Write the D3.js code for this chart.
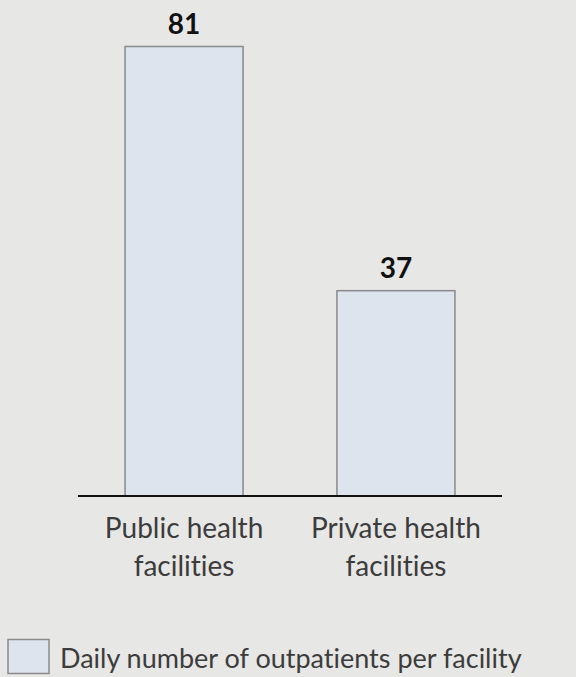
<!DOCTYPE html>
<html>
<head>
<meta charset="utf-8">
<script src="https://cdn.jsdelivr.net/npm/d3@7"></script>
<style>
  html, body { margin: 0; padding: 0; background: #e7e7e5; }
  svg { display: block; }
  text { font-variant-ligatures: none; font-feature-settings: "liga" 0, "clig" 0; }
</style>
</head>
<body>
<script>
var width = 576,
    height = 677;

// data
var categories = ["Public health facilities", "Private health facilities"];
var categoryLines = [["Public health", "facilities"], ["Private health", "facilities"]];
var values = [81, 37];
var seriesName = "Daily number of outpatients per facility";

var svg = d3.select("body")
    .append("svg")
    .attr("width", width)
    .attr("height", height);

svg.append("rect")
    .attr("width", width)
    .attr("height", height)
    .attr("fill", "#e7e7e5");

var x = d3.scaleBand()
    .domain(categories)
    .range([78, 502])
    .paddingInner(0.443)
    .paddingOuter(0.222);

var y = d3.scaleLinear()
    .domain([0, 81])
    .range([496, 46.5]);

// bars
svg.selectAll("rect.bar")
    .data(values)
  .enter().append("rect")
    .attr("class", "bar")
    .attr("x", function(d, i) { return x(categories[i]); })
    .attr("y", function(d) { return y(d); })
    .attr("width", x.bandwidth())
    .attr("height", function(d) { return y(0) - y(d); })
    .attr("fill", "#dde4ee")
    .attr("stroke", "#8a8a8a")
    .attr("stroke-width", 1.5);

// value labels
svg.selectAll("text.val")
    .data(values)
  .enter().append("text")
    .attr("class", "val")
    .attr("x", function(d, i) { return x(categories[i]) + x.bandwidth() / 2; })
    .attr("y", function(d) { return y(d) - 13; })
    .attr("text-anchor", "middle")
    .attr("font-family", "Lato, sans-serif")
    .attr("font-weight", "bold")
    .attr("font-size", 28)
    .attr("fill", "#111")
    .text(function(d) { return d; });

// baseline
svg.append("line")
    .attr("x1", 78)
    .attr("x2", 502)
    .attr("y1", y(0))
    .attr("y2", y(0))
    .attr("stroke", "#111")
    .attr("stroke-width", 2);

// category labels
categoryLines.forEach(function(lines, i) {
  var t = svg.append("text")
      .attr("text-anchor", "middle")
      .attr("font-family", "Lato, sans-serif")
      .attr("font-size", 28)
      .attr("fill", "#3c3c3c");
  lines.forEach(function(line, j) {
    t.append("tspan")
        .attr("x", x(categories[i]) + x.bandwidth() / 2)
        .attr("y", 538 + j * 38)
        .text(line);
  });
});

// legend
svg.append("rect")
    .attr("x", 8)
    .attr("y", 639.5)
    .attr("width", 41)
    .attr("height", 34)
    .attr("fill", "#dde4ee")
    .attr("stroke", "#8a8a8a")
    .attr("stroke-width", 1.5);

svg.append("text")
    .attr("x", 60)
    .attr("y", 668)
    .attr("font-family", "Lato, sans-serif")
    .attr("font-size", 27)
    .attr("fill", "#3c3c3c")
    .text(seriesName);
</script>
</body>
</html>
